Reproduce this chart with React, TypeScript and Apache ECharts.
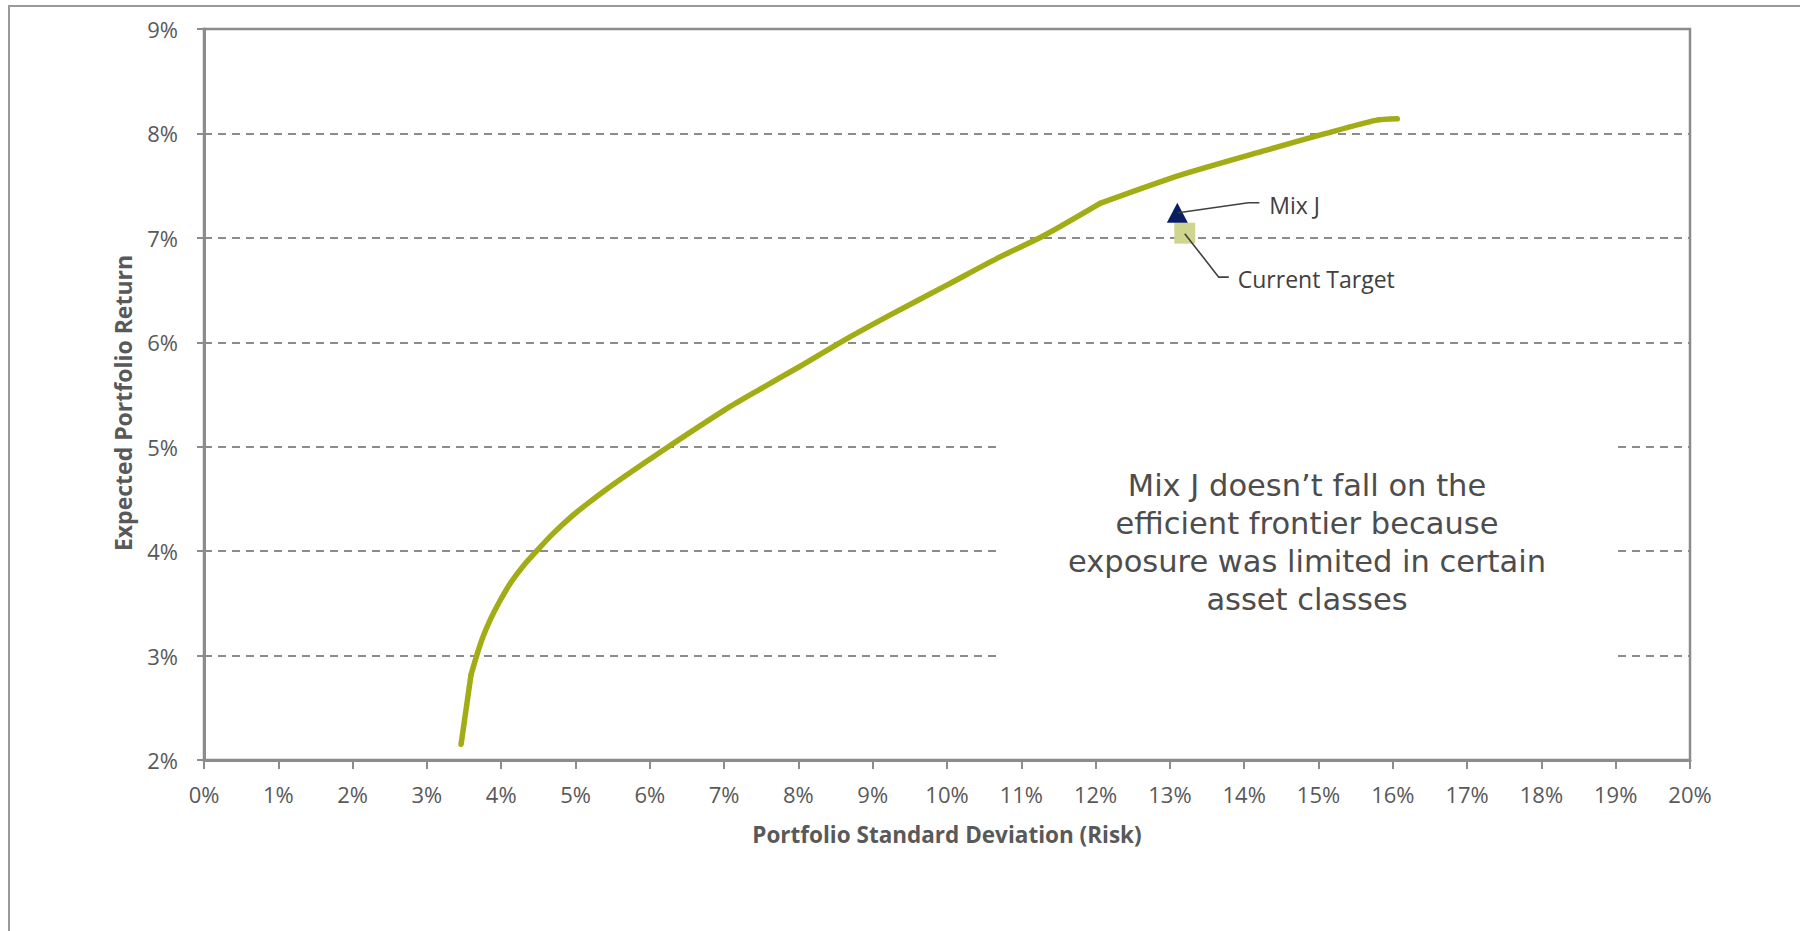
import { useEffect, useRef } from "react";
import * as echarts from "echarts";

// Efficient frontier: portfolio risk (std. dev., %) vs expected return (%)
const frontierRisk = [
  3.46, 3.593, 3.67, 3.75, 3.85, 3.98, 4.13, 4.31, 4.5, 4.7, 4.96, 5.17, 5.53,
  5.99, 6.25, 7.02, 7.485, 8.0, 8.567, 9.237, 10.01, 10.72, 11.3, 12.06, 13.14,
  14.3, 15.1, 15.77, 16.06,
];
const frontierReturn = [
  2.15, 2.813, 3.0, 3.17, 3.34, 3.52, 3.7, 3.87, 4.02, 4.17, 4.34, 4.46, 4.65,
  4.875, 5.0, 5.357, 5.551, 5.761, 6.0, 6.262, 6.552, 6.82, 7.02, 7.33, 7.6,
  7.84, 8.0, 8.125, 8.14,
];
// Risk levels where the frontier bends sharply (curve is not smoothed across them)
const frontierCorners = [3.593, 12.06];

// Individual portfolios [risk %, return %]
const mixJ = [13.1, 7.24];
const currentTarget = [13.2, 7.045];

const xRange = { min: 0, max: 20, step: 1 };
const yRange = { min: 2, max: 9, step: 1 };

const xAxisTitle = "Portfolio Standard Deviation (Risk)";
const yAxisTitle = "Expected Portfolio Return";
const mixJLabel = "Mix J";
const currentTargetLabel = "Current Target";
const noteLines = [
  "Mix J doesn\u2019t fall on the",
  "efficient frontier because",
  "exposure was limited in certain",
  "asset classes",
];

const AXIS_GREY = "#8C8C8C";
const TEXT_GREY = "#595959";
const FRONTIER_GREEN = "#A2AD15";
const UI_FONT = "'Open Sans', 'Noto Sans', sans-serif";

export default function App() {
  const ref = useRef<HTMLDivElement>(null);

  useEffect(() => {
    if (!ref.current) return;
    const chart = echarts.init(ref.current, null, { renderer: "svg" });

    const frontier = frontierRisk.map((x, i) => [x, frontierReturn[i]]);
    // split the frontier into pieces at its corners
    const cuts = [
      0,
      ...frontierCorners.map((c) => frontierRisk.indexOf(c)),
      frontier.length - 1,
    ];
    const pieces = cuts.slice(0, -1).map((start, k) =>
      frontier.slice(start, cuts[k + 1] + 1)
    );

    const frontierSeries = pieces.map((data, k) => ({
      id: `frontier-${k}`,
      name: "Efficient Frontier",
      type: "line",
      data,
      showSymbol: false,
      smooth: data.length > 2 ? 0.25 : false,
      z: 2,
      lineStyle: {
        color: FRONTIER_GREEN,
        width: 5.5,
        cap: "round",
        join: "round",
      },
    }));

    chart.setOption({
      animation: false,
      backgroundColor: "#ffffff",
      grid: {
        left: 204,
        top: 29,
        width: 1486,
        height: 731,
        show: true,
        borderColor: AXIS_GREY,
        borderWidth: 2.5,
        backgroundColor: "transparent",
      },
      xAxis: {
        type: "value",
        min: xRange.min,
        max: xRange.max,
        interval: xRange.step,
        axisLine: { show: true, lineStyle: { color: AXIS_GREY, width: 3 } },
        axisTick: {
          show: true,
          inside: false,
          length: 9,
          lineStyle: { color: AXIS_GREY, width: 2 },
        },
        axisLabel: {
          margin: 23,
          color: TEXT_GREY,
          fontFamily: UI_FONT,
          fontSize: 22,
          formatter: (v: number) => `${v}%`,
        },
        splitLine: { show: false },
      },
      yAxis: {
        type: "value",
        min: yRange.min,
        max: yRange.max,
        interval: yRange.step,
        axisLine: { show: true, lineStyle: { color: AXIS_GREY, width: 3 } },
        axisTick: {
          show: true,
          inside: false,
          length: 7,
          lineStyle: { color: AXIS_GREY, width: 2 },
        },
        axisLabel: {
          margin: 26,
          color: TEXT_GREY,
          fontFamily: UI_FONT,
          fontSize: 22,
          formatter: (v: number) => `${v}%`,
        },
        splitLine: {
          show: true,
          lineStyle: { color: AXIS_GREY, width: 2, type: [8, 6] },
        },
      },
      series: [
        ...frontierSeries,
        {
          name: currentTargetLabel,
          type: "scatter",
          data: [currentTarget],
          symbol: "rect",
          symbolSize: 21,
          z: 3,
          itemStyle: { color: "#CFD58F", opacity: 1 },
        },
        {
          name: mixJLabel,
          type: "scatter",
          data: [mixJ],
          symbol: "triangle",
          symbolSize: [21, 20],
          z: 4,
          itemStyle: { color: "#0A1F62", opacity: 1 },
        },
      ],
    });

    const [jx, jy] = chart.convertToPixel({ gridIndex: 0 }, mixJ) as number[];
    const [tx, ty] = chart.convertToPixel(
      { gridIndex: 0 },
      currentTarget
    ) as number[];

    const leader = { stroke: "#404040", lineWidth: 1.6, fill: "none" };
    const labelStyle = {
      fill: "#404040",
      fontFamily: UI_FONT,
      fontSize: 23,
      align: "left",
      verticalAlign: "middle",
    };

    chart.setOption({
      graphic: [
        // chart frame
        {
          type: "rect",
          silent: true,
          z: 1,
          shape: { x: 9, y: 6, width: 2400, height: 2400 },
          style: { fill: "transparent", stroke: "#9A9A9A", lineWidth: 2 },
        },
        // note box
        {
          type: "rect",
          silent: true,
          z: 10,
          shape: { x: 997, y: 425, width: 620, height: 240 },
          style: { fill: "#ffffff" },
        },
        {
          type: "text",
          silent: true,
          z: 11,
          x: 1307,
          y: 542,
          style: {
            text: noteLines.join("\n"),
            fill: "#4D4D4D",
            fontFamily: "'DejaVu Sans', Verdana, sans-serif",
            fontSize: 30.5,
            lineHeight: 38,
            align: "center",
            verticalAlign: "middle",
          },
        },
        // Mix J callout
        {
          type: "polyline",
          silent: true,
          z: 12,
          shape: {
            points: [
              [jx + 1, jy],
              [jx + 71, jy - 10],
              [jx + 82, jy - 10],
            ],
          },
          style: leader,
        },
        {
          type: "text",
          silent: true,
          z: 12,
          x: jx + 92,
          y: jy - 8,
          style: { ...labelStyle, text: mixJLabel },
        },
        // Current Target callout
        {
          type: "polyline",
          silent: true,
          z: 12,
          shape: {
            points: [
              [tx, ty + 0.5],
              [tx + 34, ty + 44],
              [tx + 44, ty + 44],
            ],
          },
          style: leader,
        },
        {
          type: "text",
          silent: true,
          z: 12,
          x: tx + 53,
          y: ty + 45.5,
          style: { ...labelStyle, text: currentTargetLabel },
        },
        // axis titles
        {
          type: "text",
          silent: true,
          z: 12,
          x: 947,
          y: 834,
          style: {
            text: xAxisTitle,
            fill: TEXT_GREY,
            fontFamily: UI_FONT,
            fontWeight: "bold",
            fontSize: 22.5,
            align: "center",
            verticalAlign: "middle",
          },
        },
        {
          type: "text",
          silent: true,
          z: 12,
          x: 123,
          y: 403,
          rotation: Math.PI / 2,
          style: {
            text: yAxisTitle,
            fill: TEXT_GREY,
            fontFamily: UI_FONT,
            fontWeight: "bold",
            fontSize: 23,
            align: "center",
            verticalAlign: "middle",
          },
        },
      ],
    });

    return () => chart.dispose();
  }, []);

  return (
    <div
      ref={ref}
      style={{
        position: "fixed",
        left: 0,
        top: 0,
        width: 1800,
        height: 931,
        background: "#ffffff",
      }}
    />
  );
}
